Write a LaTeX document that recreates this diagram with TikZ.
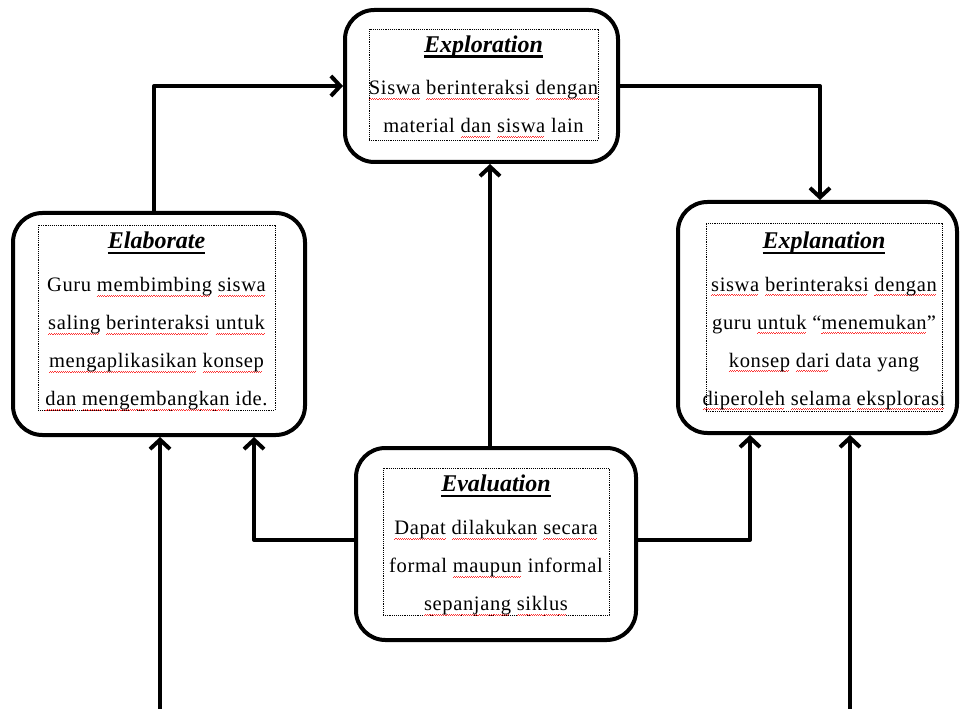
\documentclass[tikz,border=0pt]{standalone}
\usepackage{fontspec}
\setmainfont{Liberation Serif}
\usetikzlibrary{arrows.meta}
% red wavy mark under words, as a spell checker draws it
\newsavebox\markbox
\newcommand\spellmark[1]{\sbox\markbox{#1}\leavevmode
  \rlap{\textcolor{red!80}{\leaders\hbox{\rule[-3.7pt]{0.8pt}{0.55pt}\rule[-3.0pt]{0.8pt}{0.55pt}}\hskip\wd\markbox}}%
  \usebox\markbox}
\newsavebox\headbox
\newcommand\headword[1]{\sbox\headbox{\fontsize{18}{20}\selectfont\addfontfeatures{LetterSpace=0}\bfseries\itshape #1}%
  \leavevmode\rlap{\rule[-4.2pt]{\wd\headbox}{1.9pt}}\usebox\headbox}
\tikzset{
  stagebox/.style={draw, line width=3pt, rounded corners=22pt, inner sep=0pt, fill=white},
  notebox/.style={draw, line width=0.7pt, dash pattern=on 0.7pt off 0.7pt, inner sep=0pt},
  notetext/.style={align=center, inner sep=0pt, font=\fontsize{15.4}{28.5}\selectfont\addfontfeatures{LetterSpace=3}},
  flow/.style={line width=3pt, line join=round, -{Straight Barb[length=7pt,width=15pt,line width=3pt]}},
}
\begin{document}
\begin{tikzpicture}[x=0.75pt, y=-0.75pt]
\fill[white] (0,0) rectangle (960,709);
\useasboundingbox (0,0) rectangle (960,709);

% stage boxes
\node[stagebox, minimum width=204.75pt, minimum height=114pt] (explo) at (481.5,86) {};
\node[stagebox, minimum width=219pt, minimum height=166.5pt] (elab) at (159,324) {};
\node[stagebox, minimum width=209.25pt, minimum height=173.25pt] (expl) at (817.5,317.5) {};
\node[stagebox, minimum width=210pt, minimum height=144pt] (evalu) at (496,544) {};

% dotted text frames
\node[notebox, minimum width=171.75pt, minimum height=83.25pt] (exploframe) at (483.5,84.5) {};
\node[notebox, minimum width=177.75pt, minimum height=138.75pt] (elabframe) at (156.5,317.5) {};
\node[notebox, minimum width=177pt, minimum height=141pt] (explframe) at (824,317) {};
\node[notebox, minimum width=169.5pt, minimum height=110.25pt] (evaluframe) at (496,541.5) {};

% texts
\node[notetext] (explotext) at ([yshift=-1.5pt]exploframe.center) {%
  \headword{Exploration}\\[3.5pt]
  \spellmark{Siswa} \spellmark{berinteraksi} \spellmark{dengan}\\
  material \spellmark{dan} \spellmark{siswa} lain};
\node[notetext] (elabtext) at ([yshift=-2.8pt]elabframe.center) {%
  \headword{Elaborate}\\[3.5pt]
  Guru \spellmark{membimbing} \spellmark{siswa}\\
  \spellmark{saling} \spellmark{berinteraksi} \spellmark{untuk}\\
  \spellmark{mengaplikasikan} \spellmark{konsep}\\
  \spellmark{dan} \spellmark{mengembangkan} ide.};
\node[notetext] (expltext) at ([yshift=-3pt]explframe.center) {%
  \headword{Explanation}\\[3.5pt]
  \spellmark{siswa} \spellmark{berinteraksi} \spellmark{dengan}\\
  guru \spellmark{untuk} ``\spellmark{menemukan}''\\
  \spellmark{konsep} \spellmark{dari} data yang\\
  \spellmark{diperoleh} \spellmark{selama} \spellmark{eksplorasi}};
\node[notetext] (evalutext) at ([yshift=-2.8pt]evaluframe.center) {%
  \headword{Evaluation}\\[3.5pt]
  \spellmark{Dapat} \spellmark{dilakukan} \spellmark{secara}\\
  formal \spellmark{maupun} informal\\
  \spellmark{sepanjang} \spellmark{siklus}};

% connector columns
\coordinate (colA) at (154,0);
\coordinate (colB) at (820,0);
\coordinate (colC) at (490,0);
\coordinate (colD) at (254,0);
\coordinate (colE) at (750,0);
\coordinate (rowF) at (0,540);
\coordinate (inLeft) at (160,709);
\coordinate (inRight) at (850,709);

% cycle connectors
\draw[flow] (elab.north -| colA) |- (explo.west);
\draw[flow] (explo.east) -| (expl.north -| colB);
\draw[flow] (evalu.north -| colC) -- (explo.south -| colC);
\draw[flow] (evalu.west |- rowF) -| (elab.south -| colD);
\draw[flow] (evalu.east |- rowF) -| (expl.south -| colE);
\draw[flow] (inLeft) -- (elab.south -| inLeft);
\draw[flow] (inRight) -- (expl.south -| inRight);
\end{tikzpicture}
\end{document}
